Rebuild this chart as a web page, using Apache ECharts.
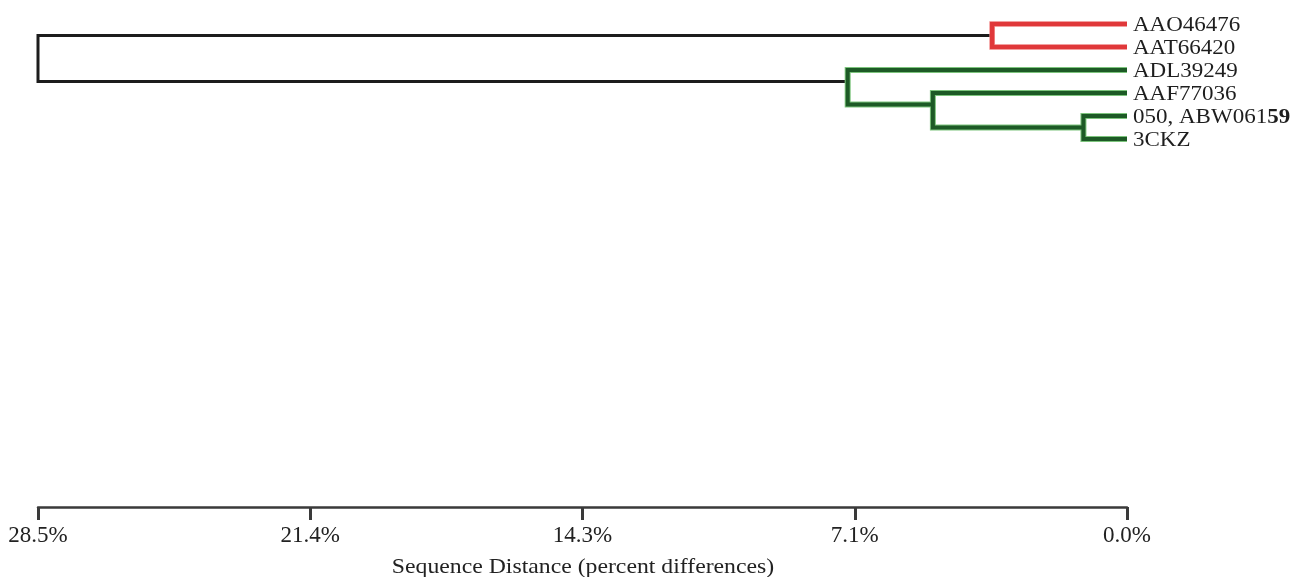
<!DOCTYPE html>
<html>
<head>
<meta charset="utf-8">
<script src="https://cdn.jsdelivr.net/npm/echarts@6/dist/echarts.min.js"></script>
<style>
  html, body { margin: 0; padding: 0; background: #ffffff; }
  #chart { width: 1292px; height: 577px; }
</style>
</head>
<body>
<div id="chart"></div>
<script>
// ---------------- data ----------------
// leaves, top to bottom (row index = position in this list)
const leafNames = ['AAO46476', 'AAT66420', 'ADL39249', 'AAF77036', '050, ABW06159', '3CKZ'];
// number of trailing characters printed in bold (as in the reference)
const leafBoldTail = [0, 0, 0, 0, 2, 0];

// internal nodes: distance (percent) at which the children join
const nodeIds      = ['red',  'n1083', 'n932', 'n847', 'root'];
const nodeDistance = [3.53,   1.14,    5.08,   7.31,   28.5];
// children: 'L<i>' = leaf i, otherwise a node id (first child drawn on top)
const nodeChildren = [['L0', 'L1'], ['L4', 'L5'], ['L3', 'n1083'], ['L2', 'n932'], ['red', 'n847']];
const nodeClade    = ['red', 'green', 'green', 'green', 'black'];

// axis
const axisMax    = 28.5;
const tickStep   = 7.125;
const tickValues = [0, 7.125, 14.25, 21.375, 28.5];
const tickLabels = ['0.0%', '7.1%', '14.3%', '21.4%', '28.5%'];
const axisTitle  = 'Sequence Distance (percent differences)';

// ---------------- derived tree geometry (data units) ----------------
const nodeIndex = {};
nodeIds.forEach((id, i) => nodeIndex[id] = i);
const posCache = {};
function pos(ref) {
  if (posCache[ref]) return posCache[ref];
  let p;
  if (ref[0] === 'L' && !isNaN(+ref.slice(1))) {
    p = [0, +ref.slice(1)];
  } else {
    const i = nodeIndex[ref];
    const first = pos(nodeChildren[i][0]);
    // node stub sits half a row below its first child
    p = [nodeDistance[i], first[1] + 0.5];
  }
  posCache[ref] = p;
  return p;
}
const bracketData = nodeIds.map((id, i) => {
  const a = pos(nodeChildren[i][0]);
  const b = pos(nodeChildren[i][1]);
  const d = nodeDistance[i];
  return { value: [a[0], a[1], d, b[0], b[1]], clade: nodeClade[i] };
});

const cladeStyle = {
  black: [{ stroke: '#1c1c1c', lineWidth: 3 }],
  red:   [{ stroke: '#f08080', lineWidth: 5.5 }, { stroke: '#e0383a', lineWidth: 4.2 }],
  green: [{ stroke: '#7cc47c', lineWidth: 6 }, { stroke: '#1d5a26', lineWidth: 4 }]
};

const FONT = 'Liberation Serif';

const chart = echarts.init(document.getElementById('chart'), null, { renderer: 'canvas' });
chart.setOption({
  backgroundColor: '#ffffff',
  animation: false,
  grid: { left: 38, right: 165, top: 1, bottom: 70, containLabel: false },
  xAxis: {
    type: 'value',
    position: 'bottom',
    inverse: true,
    min: 0,
    max: axisMax,
    interval: tickStep,
    splitLine: { show: false },
    axisLine: { show: true, onZero: false, lineStyle: { color: '#3a3a3a', width: 2.5 } },
    axisTick: { show: true, length: 13, lineStyle: { color: '#3a3a3a', width: 3 } },
    axisLabel: {
      margin: 17,
      color: '#222222',
      showMinLabel: true,
      showMaxLabel: true,
      fontFamily: FONT,
      fontSize: 23,
      formatter: function (v) {
        for (let i = 0; i < tickValues.length; i++) {
          if (Math.abs(tickValues[i] - v) < 1e-6) return tickLabels[i];
        }
        return '';
      }
    }
  },
  yAxis: {
    type: 'value',
    show: false,
    inverse: true,
    min: -1,
    max: 21
  },
  graphic: [{
    type: 'text',
    x: 583,
    y: 567,
    scaleX: 1.13,
    style: {
      text: axisTitle,
      font: '21px "' + FONT + '"',
      fill: '#222222',
      align: 'center',
      verticalAlign: 'middle'
    }
  }],
  series: [
    {
      type: 'custom',
      coordinateSystem: 'cartesian2d',
      data: bracketData,
      encode: { x: [0, 2, 3], y: [1, 4] },
      clip: false,
      renderItem: function (params, api) {
        const d = bracketData[params.dataIndex];
        const v = d.value;
        const pA = api.coord([v[0], v[1]]);
        const nA = api.coord([v[2], v[1]]);
        const nB = api.coord([v[2], v[4]]);
        const pB = api.coord([v[3], v[4]]);
        const pts = [pA, nA, nB, pB];
        const z = d.clade === 'black' ? 0 : 1;
        return {
          type: 'group',
          children: cladeStyle[d.clade].map((s, k) => ({
            type: 'polyline',
            z2: z * 10 + k,
            shape: { points: pts },
            style: { stroke: s.stroke, lineWidth: s.lineWidth, fill: null, lineJoin: 'miter', lineCap: 'butt' }
          }))
        };
      }
    },
    {
      type: 'custom',
      coordinateSystem: 'cartesian2d',
      data: leafNames.map((n, i) => [0, i]),
      clip: false,
      renderItem: function (params, api) {
        const i = params.dataIndex;
        const p = api.coord([api.value(0), api.value(1)]);
        const name = leafNames[i];
        const nb = leafBoldTail[i];
        let text = name;
        if (nb > 0) {
          text = '{n|' + name.slice(0, name.length - nb) + '}{b|' + name.slice(name.length - nb) + '}';
        }
        return {
          type: 'text',
          x: p[0] + 6,
          y: p[1] + 2,
          scaleX: 1.15,
          style: {
            text: text,
            font: '20px "' + FONT + '"',
            fill: '#1e1e1e',
            align: 'left',
            verticalAlign: 'middle',
            rich: {
              n: { fontFamily: FONT, fontSize: 20, color: '#1e1e1e' },
              b: { fontFamily: FONT, fontSize: 20, fontWeight: 'bold', color: '#1e1e1e' }
            }
          }
        };
      }
    }
  ]
});
</script>
</body>
</html>
